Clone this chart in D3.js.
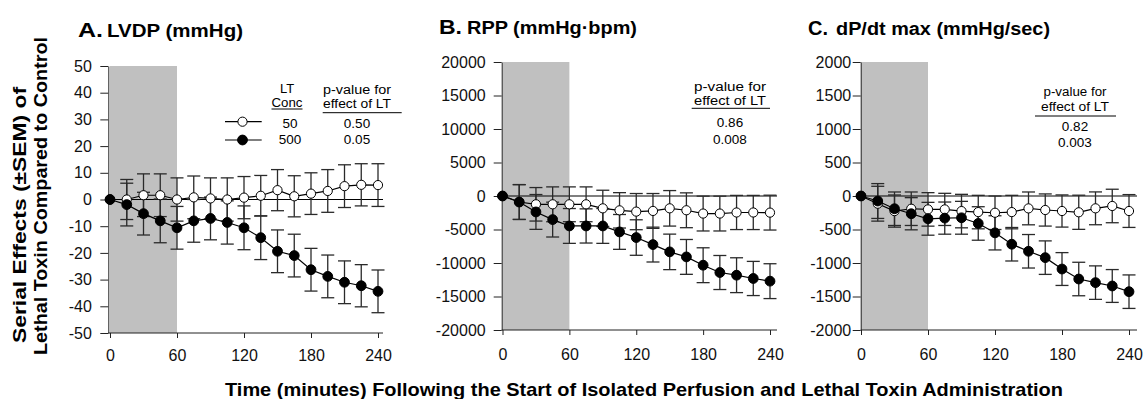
<!DOCTYPE html>
<html>
<head>
<meta charset="utf-8">
<script src="https://cdn.jsdelivr.net/npm/d3@7"></script>
<style>
  body { margin: 0; background: #fff; }
  svg, svg text { font-family: "Liberation Sans", Arial, sans-serif; }
  .tick text { font-size: 16px; fill: #111; }
  .tick line, .domain { stroke: #222; }
</style>
</head>
<body>
<svg id="chart" width="1145" height="399"></svg>
<script>
var minutes = [0, 15, 30, 45, 60, 75, 90, 105, 120, 135, 150, 165, 180, 195, 210, 225, 240];

// LT 50 = open circles, LT 500 = filled circles
var lvdp50 = [0, 0, 1.6, 1.6, 0, 0.8, 0.4, 0, 0.7, 1.4, 3.5, 1.2, 2.2, 3.2, 5, 5.5, 5.4];
var lvdp50Sem = [0, 7.5, 8, 8, 8.1, 8, 7.7, 8.1, 7.9, 7.6, 7.7, 7.7, 7.8, 8, 8, 7.9, 8];
var lvdp500 = [0, -1.9, -5.3, -8, -10.6, -8, -7.1, -8.6, -10.6, -14.3, -19.4, -21, -26.3, -28.8, -31, -32.3, -34.4];
var lvdp500Sem = [0, 8, 8, 8.2, 8, 8, 8, 8.1, 8.2, 8.2, 8, 8, 8, 8, 8, 7.9, 8];

var rpp50 = [0, -900, -1240, -1240, -1240, -1240, -1840, -2140, -2330, -2230, -1840, -2130, -2620, -2620, -2460, -2460, -2480];
var rpp50Sem = [0, 2600, 2500, 2600, 2600, 2600, 2700, 2640, 2700, 2600, 2650, 2600, 2600, 2600, 2550, 2550, 2600];
var rpp500 = [0, -900, -2380, -3520, -4470, -4470, -4470, -5360, -6200, -7250, -8340, -9090, -10330, -11420, -11820, -12310, -12710];
var rpp500Sem = [0, 2600, 2600, 2600, 2600, 2550, 2600, 2600, 2650, 2600, 2650, 2600, 2600, 2540, 2600, 2550, 2600];

var dpdt50 = [0, -115, -225, -190, -200, -200, -225, -240, -250, -240, -185, -209, -224, -243, -184, -149, -224];
var dpdt50Sem = [0, 260, 240, 250, 250, 240, 250, 250, 250, 250, 245, 240, 240, 255, 245, 250, 245];
var dpdt500 = [0, -75, -190, -265, -340, -330, -325, -410, -550, -720, -825, -920, -1090, -1239, -1293, -1343, -1428];
var dpdt500Sem = [0, 260, 250, 240, 245, 240, 245, 250, 255, 250, 250, 250, 245, 250, 250, 245, 250];

var timeTicks = [0, 60, 120, 180, 240];
var lvdpTicks = [-50, -40, -30, -20, -10, 0, 10, 20, 30, 40, 50];
var rppTicks = [-20000, -15000, -10000, -5000, 0, 5000, 10000, 15000, 20000];
var dpdtTicks = [-2000, -1500, -1000, -500, 0, 500, 1000, 1500, 2000];
var shadeMinutes = [0, 60];

var concLabels = ["50", "500"];
var lvdpPvalues = ["0.50", "0.05"];
var rppPvalues = ["0.86", "0.008"];
var dpdtPvalues = ["0.82", "0.003"];

var svg = d3.select("#chart");
var keySize = 12.5;

var panels = [
  {
    letter: "A.", name: "LVDP (mmHg)", low: lvdp50, lowSem: lvdp50Sem, high: lvdp500, highSem: lvdp500Sem,
    ticks: lvdpTicks, pvalues: lvdpPvalues, showConc: true,
    box: { axisX: 108.3, x0: 110, x240: 378, right: 383, top: 66, bottom: 333, pad: 8.5, xPad: 12 },
    head: { x: 78, y: 37, letterW: 25, nameX: 107, nameW: 136 },
    key: { cx: 357, y1: 93.5, y2: 107.5, w1: 68, w2: 68, rule: 112.7, ruleX1: 322.7, ruleX2: 401.7, v1: 128.3, v2: 143.5 }
  },
  {
    letter: "B.", name: "RPP (mmHg\u00b7bpm)", low: rpp50, lowSem: rpp50Sem, high: rpp500, highSem: rpp500Sem,
    ticks: rppTicks, pvalues: rppPvalues, showConc: false,
    box: { axisX: 501.7, x0: 502.5, x240: 770, right: 777, top: 62, bottom: 330, pad: 8, xPad: 13.3 },
    head: { x: 439, y: 34, letterW: 23, nameX: 467, nameW: 170 },
    key: { cx: 730, y1: 90.5, y2: 104.5, w1: 72, w2: 72, rule: 108.3, ruleX1: 691.7, ruleX2: 770, v1: 127, v2: 144 }
  },
  {
    letter: "C.", name: "dP/dt max (mmHg/sec)", low: dpdt50, lowSem: dpdt50Sem, high: dpdt500, highSem: dpdt500Sem,
    ticks: dpdtTicks, pvalues: dpdtPvalues, showConc: false,
    box: { axisX: 860.7, x0: 861, x240: 1129, right: 1137, top: 62, bottom: 330, pad: 1.5, xPad: 13.3 },
    head: { x: 808, y: 35, letterW: 20, nameX: 836, nameW: 214 },
    key: { cx: 1075, y1: 96, y2: 110.5, w1: 63, w2: 68, rule: 116, ruleX1: 1035, ruleX2: 1116, v1: 130.5, v2: 146.5 }
  }
];

panels.forEach(drawPanel);
drawAxisTitles();

function label(g, x, y, str, size, weight, anchor, width) {
  var t = g.append("text")
    .attr("x", x)
    .attr("y", y)
    .attr("font-size", size)
    .attr("font-weight", weight || "normal")
    .attr("text-anchor", anchor || "start")
    .attr("fill", "#000")
    .text(str);
  if (width) t.attr("textLength", width).attr("lengthAdjust", "spacingAndGlyphs");
  return t;
}

function drawPanel(p) {
  var b = p.box;
  var g = svg.append("g");

  var x = d3.scaleLinear()
    .domain([0, 240])
    .range([b.x0, b.x240]);

  var y = d3.scaleLinear()
    .domain(d3.extent(p.ticks))
    .range([b.bottom, b.top]);

  // shaded LT exposure window
  g.append("rect")
    .attr("x", x(shadeMinutes[0]))
    .attr("y", y(d3.max(p.ticks)))
    .attr("width", x(shadeMinutes[1]) - x(shadeMinutes[0]))
    .attr("height", y(d3.min(p.ticks)) - y(d3.max(p.ticks)))
    .attr("fill", "#c0c0c0");

  // zero reference line
  g.append("line")
    .attr("x1", b.axisX)
    .attr("x2", b.right)
    .attr("y1", y(0))
    .attr("y2", y(0))
    .attr("stroke", "#000")
    .attr("stroke-width", 1.2);

  var xAxis = g.append("g")
    .attr("transform", "translate(0," + b.bottom + ")")
    .call(d3.axisBottom(x)
      .tickValues(timeTicks)
      .tickSize(5)
      .tickSizeOuter(0)
      .tickPadding(b.xPad));
  xAxis.select(".domain").attr("d", "M" + b.axisX + ",0H" + b.right);
  xAxis.attr("font-family", null);

  g.append("g")
    .attr("transform", "translate(" + b.axisX + ",0)")
    .call(d3.axisLeft(y)
      .tickValues(p.ticks)
      .tickSize(8)
      .tickSizeOuter(0)
      .tickPadding(b.pad)
      .tickFormat(function(d) { return String(d); }))
    .attr("font-family", null);

  var line = d3.line()
    .x(function(d) { return x(d.t); })
    .y(function(d) { return y(d.v); });

  function rows(values, sems) {
    return minutes.map(function(t, i) { return { t: t, v: values[i], s: sems[i] }; });
  }

  var series = [
    { data: rows(p.low, p.lowSem), filled: false },
    { data: rows(p.high, p.highSem), filled: true }
  ];

  series.forEach(function(s) {
    var bars = g.append("g")
      .attr("stroke", "#2a2a2a")
      .attr("stroke-width", 1.3)
      .selectAll("g")
      .data(s.data.filter(function(d) { return d.s > 0; }))
      .enter().append("g");

    bars.append("line")
      .attr("x1", function(d) { return x(d.t); })
      .attr("x2", function(d) { return x(d.t); })
      .attr("y1", function(d) { return y(d.v - d.s); })
      .attr("y2", function(d) { return y(d.v + d.s); });

    [-1, 1].forEach(function(sign) {
      bars.append("line")
        .attr("x1", function(d) { return x(d.t) - 6.5; })
        .attr("x2", function(d) { return x(d.t) + 6.5; })
        .attr("y1", function(d) { return y(d.v + sign * d.s); })
        .attr("y2", function(d) { return y(d.v + sign * d.s); });
    });
  });

  series.forEach(function(s) {
    g.append("path")
      .datum(s.data)
      .attr("fill", "none")
      .attr("stroke", "#000")
      .attr("stroke-width", 1.2)
      .attr("d", line);

    g.append("g")
      .selectAll("circle")
      .data(s.data)
      .enter().append("circle")
        .attr("cx", function(d) { return x(d.t); })
        .attr("cy", function(d) { return y(d.v); })
        .attr("r", s.filled ? 4.9 : 4.6)
        .attr("fill", s.filled ? "#000" : "#fff")
        .attr("stroke", "#000")
        .attr("stroke-width", 1);
  });

  // panel heading
  label(g, p.head.x, p.head.y, p.letter, 21, "bold", "start", p.head.letterW);
  label(g, p.head.nameX, p.head.y, p.name, 17.5, "bold", "start", p.head.nameW);

  // p-value table
  var k = p.key;
  label(g, k.cx, k.y1, "p-value for", keySize, "normal", "middle", k.w1);
  label(g, k.cx, k.y2, "effect of LT", keySize, "normal", "middle", k.w2);
  g.append("line")
    .attr("x1", k.ruleX1)
    .attr("x2", k.ruleX2)
    .attr("y1", k.rule)
    .attr("y2", k.rule)
    .attr("stroke", "#000");
  label(g, k.cx, k.v1, p.pvalues[0], keySize + 1, "normal", "middle");
  label(g, k.cx, k.v2, p.pvalues[1], keySize + 1, "normal", "middle");

  if (p.showConc) drawConcKey(g);
}

function drawConcKey(g) {
  label(g, 287, 92.5, "LT", keySize + 0.5, "normal", "middle");
  label(g, 287, 106.5, "Conc", keySize + 0.5, "normal", "middle", 31);
  g.append("line")
    .attr("x1", 271.5).attr("x2", 302.5)
    .attr("y1", 109).attr("y2", 109)
    .attr("stroke", "#000");

  var keyRows = [{ y: 121.7, filled: false }, { y: 140, filled: true }];
  keyRows.forEach(function(r, i) {
    g.append("line")
      .attr("x1", 225).attr("x2", 261.7)
      .attr("y1", r.y).attr("y2", r.y)
      .attr("stroke", "#000")
      .attr("stroke-width", 1.2);
    g.append("circle")
      .attr("cx", 242.5).attr("cy", r.y)
      .attr("r", r.filled ? 4.9 : 4.6)
      .attr("fill", r.filled ? "#000" : "#fff")
      .attr("stroke", "#000");
    label(g, 290, i === 0 ? 128.3 : 143.5, concLabels[i], keySize + 1, "normal", "middle");
  });
}

function drawAxisTitles() {
  svg.append("text")
    .attr("transform", "translate(26,215) rotate(-90)")
    .attr("text-anchor", "middle")
    .attr("font-size", 19)
    .attr("font-weight", "bold")
    .attr("textLength", 256)
    .attr("lengthAdjust", "spacingAndGlyphs")
    .text("Serial Effects (\u00b1SEM) of");

  svg.append("text")
    .attr("transform", "translate(47,196) rotate(-90)")
    .attr("text-anchor", "middle")
    .attr("font-size", 19)
    .attr("font-weight", "bold")
    .attr("textLength", 318)
    .attr("lengthAdjust", "spacingAndGlyphs")
    .text("Lethal Toxin Compared to Control");

  label(svg, 225, 396, "Time (minutes) Following the Start of Isolated Perfusion and Lethal Toxin Administration",
    19, "bold", "start", 838);
}
</script>
</body>
</html>
